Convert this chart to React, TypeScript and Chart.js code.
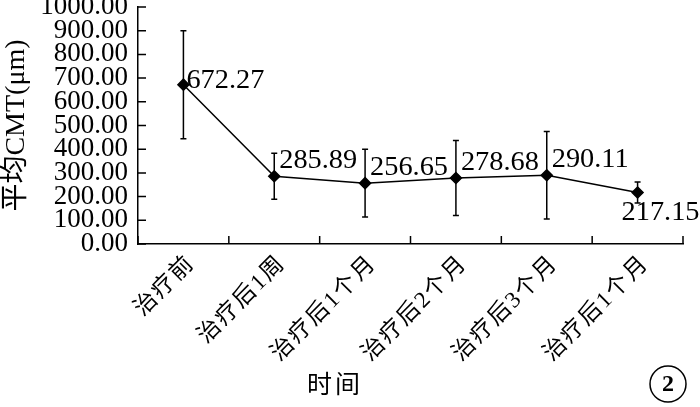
import React, { useEffect, useRef } from 'react';
import { Chart, registerables } from 'chart.js';

Chart.register(...registerables);

const categories = ['治疗前', '治疗后1周', '治疗后1个月', '治疗后2个月', '治疗后3个月', '治疗后1个月'];
const means = [672.27, 285.89, 256.65, 278.68, 290.11, 217.15];
const errors = [228, 97, 143, 158, 185, 44];
const labelPlacement = ['right', 'upright', 'upright', 'upright', 'upright', 'below'];
const yMin = 0;
const yMax = 1000;
const yStep = 100;
const yTitle = '平均CMT(μm)';
const xTitle = '时间';
const panelMark = '2';

const FONT = '"Liberation Serif", "Noto Sans CJK SC", serif';

const decorPlugin = {
  id: 'decor',
  beforeDatasetsDraw(chart: any) {
    const ctx = chart.ctx;
    const xs = chart.scales.x;
    const ys = chart.scales.y;
    ctx.save();
    ctx.strokeStyle = '#000';
    ctx.lineWidth = 1.5;
    means.forEach((m, i) => {
      const x = xs.getPixelForValue(i);
      const yt = ys.getPixelForValue(m + errors[i]);
      const yb = ys.getPixelForValue(m - errors[i]);
      ctx.beginPath();
      ctx.moveTo(x, yt);
      ctx.lineTo(x, yb);
      ctx.moveTo(x - 3, yt);
      ctx.lineTo(x + 3, yt);
      ctx.moveTo(x - 3, yb);
      ctx.lineTo(x + 3, yb);
      ctx.stroke();
    });
    ctx.restore();
  },
  afterDatasetsDraw(chart: any) {
    const ctx = chart.ctx;
    const xs = chart.scales.x;
    const ys = chart.scales.y;
    const area = chart.chartArea;
    ctx.save();
    ctx.fillStyle = '#000';
    ctx.font = `27px ${FONT}`;
    ctx.textAlign = 'left';
    ctx.textBaseline = 'middle';
    means.forEach((m, i) => {
      const x = xs.getPixelForValue(i);
      const y = ys.getPixelForValue(m);
      const p = labelPlacement[i];
      const txt = m.toFixed(2);
      let tx = x - 16;
      let ty = y + 20;
      if (p === 'right') {
        tx = x + 3;
        ty = y - 4;
      } else if (p === 'upright') {
        tx = x + 5;
        ty = y - 15;
      }
      ctx.save();
      ctx.translate(tx, ty);
      ctx.scale(1.05, 1);
      ctx.fillText(txt, 0, 0);
      ctx.restore();
    });
    // inward ticks
    ctx.strokeStyle = '#000';
    ctx.lineWidth = 1.5;
    ctx.beginPath();
    for (let v = yMin; v <= yMax; v += yStep) {
      const y = ys.getPixelForValue(v);
      ctx.moveTo(area.left, y);
      ctx.lineTo(area.left + 8, y);
    }
    const half = (xs.getPixelForValue(1) - xs.getPixelForValue(0)) / 2;
    for (let i = 0; i <= categories.length; i++) {
      const x = xs.getPixelForValue(i) - half;
      ctx.moveTo(x, area.bottom);
      ctx.lineTo(x, area.bottom - 8);
    }
    ctx.stroke();
    // x title
    ctx.font = `25px ${FONT}`;
    ctx.textAlign = 'center';
    ctx.textBaseline = 'middle';
    ctx.letterSpacing = '3px';
    ctx.fillText(xTitle, 335, 386);
    ctx.letterSpacing = '0px';
    // panel mark
    ctx.beginPath();
    ctx.lineWidth = 1.5;
    ctx.arc(668, 384, 18, 0, Math.PI * 2);
    ctx.stroke();
    ctx.font = `bold 24px ${FONT}`;
    ctx.fillText(panelMark, 668, 385);
    ctx.restore();
  },
};

export default function App() {
  const ref = useRef<HTMLCanvasElement>(null);
  useEffect(() => {
    if (!ref.current) return;
    const ticks: number[] = [];
    for (let v = yMin; v <= yMax; v += yStep) ticks.push(v);
    const chart = new Chart(ref.current, {
      type: 'line',
      data: {
        labels: categories,
        datasets: [
          {
            data: means,
            borderColor: '#000',
            borderWidth: 1.5,
            pointStyle: 'rectRot',
            pointRadius: 5.5,
            pointBackgroundColor: '#000',
            pointBorderColor: '#000',
            tension: 0,
          },
        ],
      },
      options: {
        responsive: false,
        animation: false,
        events: [],
        layout: { padding: { top: 7, right: 17, left: 0, bottom: 0 } },
        plugins: { legend: { display: false }, tooltip: { enabled: false } },
        scales: {
          x: {
            offset: true,
            grid: { display: false, drawTicks: false },
            border: { display: true, color: '#000', width: 1.5 },
            ticks: {
              color: '#000',
              font: { family: FONT, size: 23 },
              minRotation: 45,
              maxRotation: 45,
              autoSkip: false,
              padding: 6,
              labelOffset: 8,
            },
            afterFit: (s: any) => {
              s.height = 163;
              s.paddingLeft = 0;
              s.paddingRight = 0;
            },
            afterUpdate: (s: any) => {
              const proto = Object.getPrototypeOf(s);
              s.drawLabels = function (area: any) {
                const c = this.ctx;
                c.save();
                c.letterSpacing = '2px';
                proto.drawLabels.call(this, area);
                c.restore();
              };
            },
          },
          y: {
            min: yMin,
            max: yMax,
            grid: { display: false, drawTicks: false },
            border: { display: true, color: '#000', width: 1.5 },
            afterBuildTicks: (s: any) => {
              s.ticks = ticks.map((v) => ({ value: v }));
            },
            ticks: {
              color: '#000',
              font: { family: FONT, size: 27 },
              autoSkip: false,
              padding: 10,
              callback: (v: any) => Number(v).toFixed(2),
            },
            title: {
              display: true,
              text: yTitle,
              color: '#000',
              font: { family: FONT, size: 28 },
              padding: 0,
            },
            afterFit: (s: any) => {
              s.width = 138;
              s.paddingTop = 0;
              s.paddingBottom = 0;
            },
          },
        },
      },
      plugins: [decorPlugin],
    });
    return () => chart.destroy();
  }, []);
  return (
    <div style={{ position: 'fixed', left: 0, top: 0, width: 700, height: 407, background: '#fff' }}>
      <canvas ref={ref} width={700} height={407} style={{ width: 700, height: 407 }} />
    </div>
  );
}
